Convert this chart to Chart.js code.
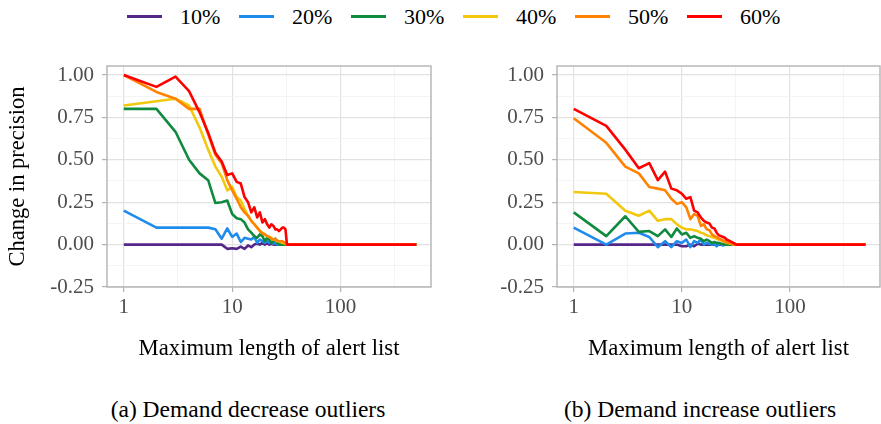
<!DOCTYPE html>
<html>
<head>
<meta charset="utf-8">
<script src="https://cdn.jsdelivr.net/npm/chart.js@4.4.0/dist/chart.umd.min.js"></script>
<style>
  body { margin: 0; width: 881px; height: 424px; background: #fff; position: relative; overflow: hidden; font-family: "Liberation Serif", "Times New Roman", serif; }
  #legend { position: absolute; top: 0; left: 127px; height: 33px; display: flex; align-items: center; font-size: 22px; color: #000; }
  .item { display: flex; align-items: center; width: 112px; }
  .swatch { width: 35px; height: 3px; margin-right: 18px; }
  .cap { position: absolute; top: 395px; font-size: 23.5px; line-height: 28px; transform: translateX(-50%); white-space: nowrap; }
  canvas { position: absolute; top: 0; }
</style>
</head>
<body>
<div id="legend"></div>
<canvas id="chartA" width="440" height="380" style="left:0"></canvas>
<canvas id="chartB" width="441" height="380" style="left:440px"></canvas>
<div class="cap" style="left:248px">(a) Demand decrease outliers</div>
<div class="cap" style="left:700px">(b) Demand increase outliers</div>

<script>
// maximum length of alert list (1..34, then flat out to 500)
const xValues = [1, 2, 3, 4, 5, 6, 7, 8, 9, 10, 11, 12, 13, 14, 15, 16, 17, 18, 19, 20,
    21, 22, 23, 24, 25, 26, 27, 28, 29, 30, 31, 32, 33, 34, 500];

const seriesLabels = ['10%', '20%', '30%', '40%', '50%', '60%'];
const seriesColors = ['#542788', '#1f8ceb', '#0f8a3e', '#f2c80f', '#ff8200', '#ff0000'];

// (a) demand decrease outliers
const decrease10 = [0, 0, 0, 0, 0, 0, 0, 0, -0.025, -0.022, -0.025, -0.012, -0.025, -0.005, -0.015, 0, 0.005, 0, 0.01, 0,
    0.008, 0, 0.005, 0, 0, 0, 0, 0, 0, 0, 0, 0, 0, 0, 0];
const decrease20 = [0.20, 0.10, 0.10, 0.10, 0.10, 0.10, 0.09, 0.035, 0.095, 0.045, 0.065, 0.015, 0.04, 0.035, 0.03, 0.045, 0.01, 0.03, 0.02, 0.01,
    0.025, 0.01, 0.015, 0.005, 0.01, 0, 0, 0, 0, 0, 0, 0, 0, 0, 0];
const decrease30 = [0.80, 0.80, 0.665, 0.50, 0.42, 0.38, 0.245, 0.25, 0.26, 0.18, 0.155, 0.15, 0.13, 0.09, 0.07, 0.05, 0.04, 0.06, 0.05, 0.02,
    0.04, 0.03, 0.01, 0.02, 0.035, 0.01, 0, 0, 0, 0, 0, 0, 0, 0, 0];
const decrease40 = [0.82, 0.845, 0.86, 0.82, 0.69, 0.56, 0.46, 0.40, 0.32, 0.34, 0.28, 0.26, 0.21, 0.17, 0.14, 0.12, 0.10, 0.08, 0.07, 0.06,
    0.05, 0.045, 0.04, 0.03, 0.03, 0.02, 0.02, 0.015, 0.01, 0.01, 0.005, 0, 0, 0, 0];
const decrease50 = [1.00, 0.90, 0.86, 0.80, 0.80, 0.65, 0.53, 0.48, 0.38, 0.32, 0.27, 0.22, 0.19, 0.17, 0.14, 0.12, 0.10, 0.08, 0.065, 0.06,
    0.05, 0.045, 0.035, 0.03, 0.03, 0.025, 0.02, 0.02, 0.02, 0.015, 0.01, 0.005, 0, 0, 0];
const decrease60 = [1.00, 0.93, 0.99, 0.905, 0.78, 0.66, 0.54, 0.49, 0.41, 0.42, 0.37, 0.36, 0.28, 0.25, 0.19, 0.22, 0.16, 0.19, 0.13, 0.15,
    0.12, 0.10, 0.12, 0.11, 0.09, 0.09, 0.08, 0.09, 0.10, 0.10, 0.09, 0, 0, 0, 0];

// (b) demand increase outliers
const increase10 = [0, 0, 0, 0, 0, 0, 0, 0, 0, -0.01, -0.01, 0, -0.01, 0.005, 0, 0, 0, 0, 0, 0,
    0, 0, 0, 0, 0, 0, 0, 0, 0, 0, 0, 0, 0, 0, 0];
const increase20 = [0.10, 0, 0.065, 0.07, 0.045, -0.015, 0.02, -0.015, 0.02, 0.01, 0.03, -0.015, 0.02, 0.01, 0.03, 0, 0.01, 0.005, 0, 0.005,
    -0.01, 0, 0.005, -0.005, 0, 0, 0, 0, 0, 0, 0, 0, 0, 0, 0];
const increase30 = [0.19, 0.05, 0.167, 0.075, 0.08, 0.05, 0.09, 0.045, 0.095, 0.06, 0.07, 0.04, 0.05, 0.04, 0.035, 0.02, 0.03, 0.02, 0.01, 0.015,
    0.01, 0.01, 0.005, 0.005, 0, 0, 0, 0, 0, 0, 0, 0, 0, 0, 0];
const increase40 = [0.31, 0.30, 0.20, 0.17, 0.20, 0.14, 0.15, 0.15, 0.12, 0.10, 0.09, 0.09, 0.085, 0.08, 0.07, 0.065, 0.055, 0.05, 0.045, 0.04,
    0.035, 0.03, 0.025, 0.02, 0.015, 0.01, 0.01, 0.005, 0.005, 0, 0, 0, 0, 0, 0];
const increase50 = [0.745, 0.60, 0.46, 0.42, 0.34, 0.33, 0.32, 0.27, 0.24, 0.25, 0.22, 0.15, 0.18, 0.17, 0.11, 0.12, 0.09, 0.085, 0.06, 0.05,
    0.045, 0.035, 0.03, 0.025, 0.02, 0.015, 0.01, 0.01, 0.005, 0, 0, 0, 0, 0, 0];
const increase60 = [0.80, 0.70, 0.56, 0.45, 0.48, 0.38, 0.43, 0.33, 0.32, 0.30, 0.27, 0.28, 0.20, 0.19, 0.16, 0.14, 0.13, 0.125, 0.10, 0.095,
    0.07, 0.055, 0.05, 0.045, 0.04, 0.03, 0.025, 0.02, 0.015, 0.01, 0.005, 0, 0, 0, 0];

const xTickValues = [1, 10, 100];
const xTickLabels = ['1', '10', '100'];
const xMinorTicks = [3.1623, 31.623, 316.23];
const yTickValues = [-0.25, 0, 0.25, 0.5, 0.75, 1];
const yTickLabels = ['-0.25', '0.00', '0.25', '0.50', '0.75', '1.00'];
const yMinorTicks = [-0.125, 0.125, 0.375, 0.625, 0.875];

const serif = 'Liberation Serif';

// legend (shared by both panels)
const legendBox = document.getElementById('legend');
seriesLabels.forEach((label, i) => {
    legendBox.insertAdjacentHTML('beforeend', `
        <div class="item"><div class="swatch" style="background:${seriesColors[i]}"></div><span>${label}</span></div>
    `);
});

const setTicks = (majors, minors) => scale => {
    const list = majors.map(v => ({ value: v, minor: false }))
        .concat(minors.map(v => ({ value: v, minor: true })));
    scale.ticks = list.sort((a, b) => a.value - b.value);
};

const gridOpts = {
    color: ctx => ctx.tick && ctx.tick.minor ? '#f1f1f1' : '#e2e2e2',
    lineWidth: ctx => ctx.tick && ctx.tick.minor ? 0.8 : 1.2,
    tickColor: ctx => ctx.tick && ctx.tick.minor ? 'rgba(0,0,0,0)' : '#b3b3b3',
    tickLength: 5,
    tickWidth: 1.2
};

const framePlugin = {
    id: 'frame',
    afterDraw(chart) {
        const { ctx, chartArea: a } = chart;
        ctx.save();
        ctx.strokeStyle = '#b3b3b3';
        ctx.lineWidth = 1.4;
        ctx.strokeRect(a.left, a.top, a.right - a.left, a.bottom - a.top);
        ctx.restore();
    }
};

const makeChart = (id, series, yAxisWidth, rightPad, showYTitle) => {
    const ctx = document.getElementById(id).getContext('2d');
    return new Chart(ctx, {
        type: 'line',
        data: {
            datasets: series.map((vals, i) => ({
                label: seriesLabels[i],
                data: xValues.map((x, j) => ({ x: x, y: vals[j] })),
                borderColor: seriesColors[i],
                backgroundColor: seriesColors[i],
                borderWidth: 2.6,
                borderJoinStyle: 'round',
                pointRadius: 0,
                tension: 0,
                order: series.length - i
            }))
        },
        options: {
            responsive: false,
            animation: false,
            events: [],
            layout: { padding: { top: 66, right: rightPad, left: 0, bottom: 0 } },
            plugins: { legend: { display: false }, tooltip: { enabled: false } },
            scales: {
                x: {
                    type: 'logarithmic',
                    min: 0.733,
                    max: 682,
                    afterBuildTicks: setTicks(xTickValues, xMinorTicks),
                    afterFit: scale => { scale.height = 93; },
                    grid: gridOpts,
                    border: { display: false },
                    ticks: {
                        autoSkip: false,
                        maxRotation: 0,
                        padding: 3,
                        color: '#4d4d4d',
                        font: { family: serif, size: 21 },
                        callback: (value, index, ticks) => ticks[index].minor ? '' : xTickLabels[xTickValues.indexOf(value)]
                    },
                    title: {
                        display: true,
                        text: 'Maximum length of alert list',
                        color: '#000',
                        font: { family: serif, size: 22.7 },
                        padding: { top: 0, bottom: 17 }
                    }
                },
                y: {
                    min: -0.25,
                    max: 1.053,
                    afterBuildTicks: setTicks(yTickValues, yMinorTicks),
                    afterFit: scale => { scale.width = yAxisWidth; },
                    grid: gridOpts,
                    border: { display: false },
                    ticks: {
                        autoSkip: false,
                        padding: 8,
                        color: '#4d4d4d',
                        font: { family: serif, size: 21 },
                        callback: (value, index, ticks) => ticks[index].minor ? '' : yTickLabels[yTickValues.indexOf(value)]
                    },
                    title: {
                        display: showYTitle,
                        text: 'Change in precision',
                        color: '#000',
                        font: { family: serif, size: 22.5 },
                        padding: { top: 5, bottom: 0 }
                    }
                }
            }
        },
        plugins: [framePlugin]
    });
};

makeChart('chartA', [decrease10, decrease20, decrease30, decrease40, decrease50, decrease60], 107, 9, true);
makeChart('chartB', [increase10, increase20, increase30, increase40, increase50, increase60], 117, 1, false);
</script>
</body>
</html>
